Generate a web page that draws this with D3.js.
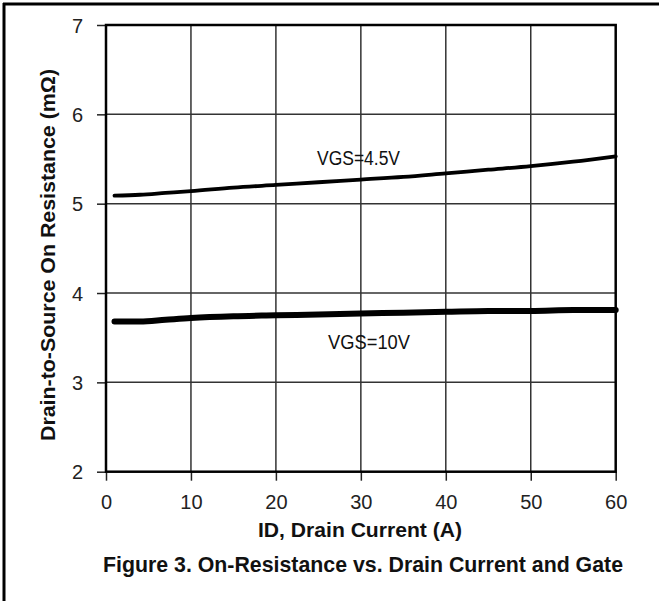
<!DOCTYPE html>
<html><head><meta charset="utf-8">
<script src="https://cdn.jsdelivr.net/npm/d3@7"></script>
<style>body{margin:0;background:#fff}svg{display:block}</style>
</head><body>
<script>
const current = [1, 4, 7, 10, 15, 20, 25, 30, 35, 40, 45, 50, 55, 60];
const rVgs45 = [5.09, 5.10, 5.12, 5.14, 5.18, 5.21, 5.24, 5.27, 5.30, 5.34, 5.38, 5.42, 5.47, 5.53];
const rVgs10 = [3.68, 3.68, 3.70, 3.72, 3.74, 3.75, 3.76, 3.77, 3.78, 3.79, 3.80, 3.80, 3.81, 3.81];
const xTicks = [0, 10, 20, 30, 40, 50, 60];
const yTicks = [2, 3, 4, 5, 6, 7];
const seriesLabels = ["VGS=4.5V", "VGS=10V"];
const xTitle = "ID, Drain Current (A)";
const yTitle = "Drain-to-Source On Resistance (mΩ)";
const caption = "Figure 3. On-Resistance vs. Drain Current and Gate";

const W = 659, H = 601;
const m = {l: 106, t: 25, r: 659 - 615.7, b: 601 - 471.7};
const svg = d3.select("body").append("svg").attr("width", W).attr("height", H);

// outer frame (left and top visible)
svg.append("line").attr("x1", 4).attr("x2", 4).attr("y1", 3).attr("y2", H).attr("stroke", "#000").attr("stroke-width", 3);
svg.append("line").attr("x1", 3).attr("x2", W).attr("y1", 4).attr("y2", 4).attr("stroke", "#000").attr("stroke-width", 3);

const x = d3.scaleLinear().domain([0, 60]).range([m.l, W - m.r]);
const y = d3.scaleLinear().domain([2, 7]).range([H - m.b, m.t]);

const font = "'Liberation Sans', Arial, sans-serif";
const narrow = "'Liberation Sans Narrow', 'Arial Narrow', 'Liberation Sans', Arial, sans-serif";

// grid
const g = svg.append("g");
g.selectAll(".vg").data(xTicks.slice(1, -1)).join("line")
  .attr("x1", d => x(d)).attr("x2", d => x(d)).attr("y1", y(7)).attr("y2", y(2))
  .attr("stroke", "#333").attr("stroke-width", 1.5);
g.selectAll(".hg").data(yTicks.slice(1, -1)).join("line")
  .attr("y1", d => y(d)).attr("y2", d => y(d)).attr("x1", x(0)).attr("x2", x(60))
  .attr("stroke", "#333").attr("stroke-width", 1.5);

// axes
const xAxis = d3.axisBottom(x).tickValues(xTicks).tickSize(9).tickPadding(14).tickFormat(d3.format("d"));
const yAxis = d3.axisLeft(y).tickValues(yTicks).tickSize(9).tickPadding(14).tickFormat(d3.format("d"));
const gx = svg.append("g").attr("transform", `translate(0,${y(2)})`).call(xAxis);
const gy = svg.append("g").attr("transform", `translate(${x(0)},0)`).call(yAxis);
[gx, gy].forEach(a => {
  a.select(".domain").remove();
  a.selectAll(".tick line").attr("stroke", "#222").attr("stroke-width", 1.5);
  a.selectAll(".tick text").attr("font-family", font).attr("font-size", 20).attr("fill", "#222");
});
gy.selectAll(".tick text").attr("dy", "0.35em");
gx.selectAll(".tick text").attr("dy", "0.71em");

// frame
svg.append("rect").attr("x", x(0)).attr("y", y(7)).attr("width", x(60) - x(0)).attr("height", y(2) - y(7))
  .attr("fill", "none").attr("stroke", "#000").attr("stroke-width", 2.5);

// curves
const line = d3.line().x(d => x(d[0])).y(d => y(d[1])).curve(d3.curveMonotoneX);
svg.append("path").datum(current.map((c, i) => [c, rVgs45[i]])).attr("d", line)
  .attr("fill", "none").attr("stroke", "#000").attr("stroke-width", 3.8).attr("stroke-linecap", "round");
svg.append("path").datum(current.map((c, i) => [c, rVgs10[i]])).attr("d", line)
  .attr("fill", "none").attr("stroke", "#000").attr("stroke-width", 6).attr("stroke-linecap", "round");

// labels
const lbl = [{t: seriesLabels[0], x: 317, y: 165, w: 83}, {t: seriesLabels[1], x: 328, y: 349, w: 82}];
svg.selectAll(".lbl").data(lbl).join("text")
  .attr("x", d => d.x).attr("y", d => d.y).text(d => d.t)
  .attr("font-family", narrow).attr("font-size", 20).attr("fill", "#111")
  .attr("textLength", d => d.w).attr("lengthAdjust", "spacingAndGlyphs");

// titles
svg.append("text").attr("x", 360).attr("y", 537).attr("text-anchor", "middle")
  .attr("font-family", narrow).attr("font-weight", "bold").attr("font-size", 20).attr("fill", "#111")
  .attr("textLength", 204).attr("lengthAdjust", "spacingAndGlyphs").text(xTitle);
svg.append("text").attr("transform", "translate(55,255) rotate(-90)").attr("text-anchor", "middle")
  .attr("font-family", narrow).attr("font-weight", "bold").attr("font-size", 20).attr("fill", "#111")
  .attr("textLength", 372).attr("lengthAdjust", "spacingAndGlyphs").text(yTitle);
svg.append("text").attr("x", 363).attr("y", 572).attr("text-anchor", "middle")
  .attr("font-family", narrow).attr("font-weight", "bold").attr("font-size", 22).attr("fill", "#111")
  .attr("textLength", 520).attr("lengthAdjust", "spacingAndGlyphs").text(caption);
</script>
</body></html>
